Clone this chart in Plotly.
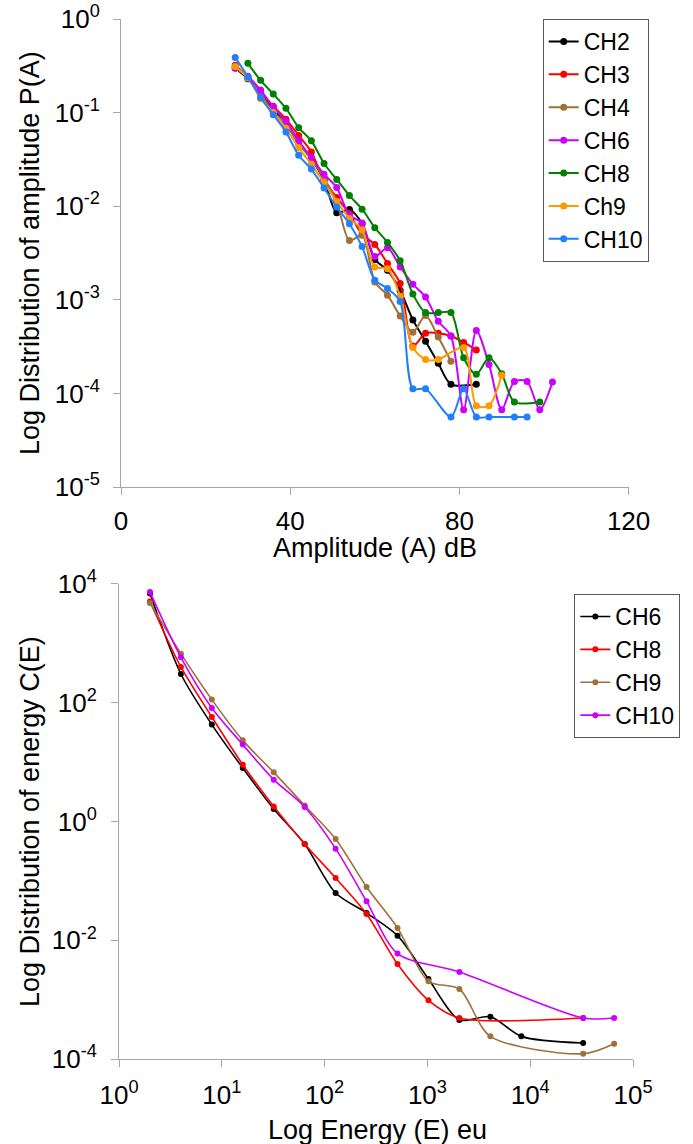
import plotly.graph_objects as go

W, H = 693, 1144
OFF = 0  # page body margin is removed by the post script below
FONT = "Liberation Sans, Arial, sans-serif"


def fx(px):
    return (px - OFF) / W


def fy(py):
    return 1 - (py - OFF) / H


# ---------------- Top chart: amplitude distribution P(A) ----------------
ch2_amp = [27, 30, 33, 36, 39, 42, 45, 48, 51, 54, 57, 60, 63, 66, 69, 72, 75, 78, 84]
ch2_p = [0.30, 0.23, 0.16, 0.107, 0.076, 0.047, 0.032, 0.019, 0.0085, 0.0092, 0.0065,
         0.0027, 0.00207, 0.00126, 0.00061, 0.00036, 0.00021, 0.000125, 0.000125]

ch3_amp = [27, 30, 33, 36, 39, 42, 45, 48, 51, 54, 57, 60, 63, 66, 69, 72, 75, 78, 81, 84]
ch3_p = [0.32, 0.24, 0.166, 0.117, 0.085, 0.057, 0.038, 0.019, 0.0124, 0.0083, 0.005,
         0.0039, 0.00244, 0.00149, 0.00032, 0.00044, 0.00044, 0.00041, 0.00035, 0.00029]

ch4_amp = [27, 30, 33, 36, 39, 42, 45, 48, 51, 54, 57, 60, 63, 66, 69, 72, 75, 78]
ch4_p = [0.30, 0.24, 0.158, 0.102, 0.076, 0.047, 0.032, 0.020, 0.0112, 0.0043, 0.0049,
         0.00155, 0.00112, 0.00067, 0.00045, 0.00068, 0.0004, 0.00022]

ch6_amp = [27, 30, 33, 36, 39, 42, 45, 48, 51, 54, 57, 60, 63, 66, 69, 72, 75, 78, 81,
           84, 87, 90, 93, 96, 99, 102]
ch6_p = [0.30, 0.245, 0.174, 0.115, 0.081, 0.050, 0.033, 0.022, 0.0158, 0.008, 0.0066,
         0.0029, 0.0036, 0.00224, 0.00147, 0.00107, 0.00059, 0.00041, 0.000067,
         0.00047, 0.000204, 0.000067, 0.000134, 0.000134, 0.000067, 0.000132]

ch8_amp = [30, 33, 36, 39, 42, 45, 48, 51, 54, 57, 60, 63, 66, 69, 72, 75, 78, 81, 84,
           87, 90, 93, 99]
ch8_p = [0.336, 0.221, 0.158, 0.111, 0.069, 0.050, 0.0286, 0.0193, 0.013, 0.0093,
         0.0059, 0.0041, 0.00262, 0.00115, 0.00073, 0.00073, 0.00073, 0.00024,
         0.00016, 0.00024, 0.000162, 0.000081, 0.000081]

ch9_amp = [27, 30, 33, 36, 39, 42, 45, 48, 51, 54, 57, 60, 63, 66, 69, 72, 75, 81, 84, 87, 90]
ch9_p = [0.31, 0.234, 0.141, 0.100, 0.068, 0.042, 0.028, 0.0178, 0.0112, 0.0074, 0.0056,
         0.00224, 0.00215, 0.00109, 0.00031, 0.00023, 0.00023, 0.00031, 0.000074,
         0.000074, 0.000156]

ch10_amp = [27, 30, 33, 36, 39, 42, 45, 48, 51, 54, 57, 60, 63, 66, 69, 72, 78, 81, 84,
            87, 93, 96]
ch10_p = [0.389, 0.241, 0.145, 0.095, 0.062, 0.035, 0.0249, 0.0156, 0.0098, 0.0065,
          0.0037, 0.00162, 0.00132, 0.00096, 0.000112, 0.000112, 0.000056, 0.000112,
          0.000056, 0.000056, 0.000056, 0.000056]

amp_series = [
    ("CH2", ch2_amp, ch2_p, "#000000"),
    ("CH3", ch3_amp, ch3_p, "#FF0000"),
    ("CH4", ch4_amp, ch4_p, "#A0703A"),
    ("CH6", ch6_amp, ch6_p, "#CC00FF"),
    ("CH8", ch8_amp, ch8_p, "#008000"),
    ("Ch9", ch9_amp, ch9_p, "#FF9900"),
    ("CH10", ch10_amp, ch10_p, "#1F7FFF"),
]

amp_ticks = [0, 40, 80, 120]
amp_ytick_vals = [1, 1e-1, 1e-2, 1e-3, 1e-4, 1e-5]
amp_ytick_text = ["10<sup>0</sup>", "10<sup>-1</sup>", "10<sup>-2</sup>",
                  "10<sup>-3</sup>", "10<sup>-4</sup>", "10<sup>-5</sup>"]

# ---------------- Bottom chart: energy distribution C(E) ----------------
e6 = [2, 4, 8, 16, 32, 64, 128, 256, 512, 1024, 2048, 4096, 8192, 32768]
c6 = [6800, 302, 42.5, 7.9, 1.62, 0.418, 0.0627, 0.0289, 0.012, 0.00224, 0.00046,
      0.00052, 0.000243, 0.000188]

e8 = [2, 4, 8, 16, 32, 64, 128, 256, 512, 1024, 2048, 32768]
c8 = [5000, 396, 57, 9.0, 1.79, 0.418, 0.112, 0.0278, 0.004, 0.00098, 0.000495, 0.000495]

e9 = [2, 4, 8, 16, 32, 64, 128, 256, 512, 1024, 2048, 4096, 32768, 65536]
c9 = [4730, 664, 112, 23.1, 6.7, 1.86, 0.508, 0.079, 0.0162, 0.00205, 0.00152,
      0.000243, 0.000124, 0.000183]

e10 = [2, 4, 8, 16, 32, 64, 128, 256, 512, 2048, 32768, 65536]
c10 = [7240, 575, 81, 19.6, 5.05, 1.75, 0.349, 0.0454, 0.006, 0.00294, 0.000495, 0.000495]

energy_series = [
    ("CH6", e6, c6, "#000000"),
    ("CH8", e8, c8, "#FF0000"),
    ("CH9", e9, c9, "#A0703A"),
    ("CH10", e10, c10, "#CC00FF"),
]

en_xtick_vals = [1, 10, 100, 1000, 1e4, 1e5]
en_xtick_text = ["10<sup>0</sup>", "10<sup>1</sup>", "10<sup>2</sup>",
                 "10<sup>3</sup>", "10<sup>4</sup>", "10<sup>5</sup>"]
en_ytick_vals = [1e4, 1e2, 1, 1e-2, 1e-4]
en_ytick_text = ["10<sup>4</sup>", "10<sup>2</sup>", "10<sup>0</sup>",
                 "10<sup>-2</sup>", "10<sup>-4</sup>"]

fig = go.Figure()

for name, xs, ys, col in amp_series:
    fig.add_trace(go.Scatter(
        x=xs, y=ys, name=name, mode="lines+markers",
        line=dict(color=col, width=2, shape="spline", smoothing=0.8),
        marker=dict(color=col, size=7),
        xaxis="x", yaxis="y", legend="legend",
    ))

for name, xs, ys, col in energy_series:
    fig.add_trace(go.Scatter(
        x=xs, y=ys, name=name, mode="lines+markers",
        line=dict(color=col, width=1.6, shape="spline", smoothing=0.8),
        marker=dict(color=col, size=6),
        xaxis="x2", yaxis="y2", legend="legend2",
    ))

AX = "#A6A6A6"
common = dict(showgrid=False, zeroline=False, showline=True, linecolor=AX, linewidth=1,
              ticks="outside", ticklen=7, tickcolor=AX, tickwidth=1, automargin=False,
              ticklabeloverflow="allow",
              tickfont=dict(family=FONT, size=26, color="#000000"))

fig.update_layout(
    width=W, height=H, autosize=False,
    margin=dict(l=0, r=0, t=0, b=0, autoexpand=False),
    paper_bgcolor="white", plot_bgcolor="white",
    font=dict(family=FONT, color="#000000"),
    xaxis=dict(domain=[fx(121), fx(628.6)], range=[0, 120], tickvals=amp_ticks,
               anchor="y", ticklabelstandoff=4, **common),
    yaxis=dict(domain=[fy(487), fy(19)], type="log", range=[-5, 0],
               tickvals=amp_ytick_vals, ticktext=amp_ytick_text, anchor="x",
               ticklabelstandoff=8, **common),
    xaxis2=dict(domain=[fx(119), fx(633)], type="log", range=[0, 5],
                tickvals=en_xtick_vals, ticktext=en_xtick_text, anchor="y2",
                ticklabelstandoff=5, **common),
    yaxis2=dict(domain=[fy(1059.3), fy(583.6)], type="log", range=[-4, 4],
                tickvals=en_ytick_vals, ticktext=en_ytick_text, anchor="x2",
                ticklabelstandoff=9, **common),
    legend=dict(x=fx(542.7), y=fy(19), xanchor="left", yanchor="top",
                bordercolor="#595959", borderwidth=1, bgcolor="white",
                font=dict(family=FONT, size=23, color="#000000"),
                itemwidth=30, tracegroupgap=0),
    legend2=dict(x=fx(574.3), y=fy(594), xanchor="left", yanchor="top",
                 bordercolor="#595959", borderwidth=1, bgcolor="white",
                 font=dict(family=FONT, size=23, color="#000000"),
                 itemwidth=30, tracegroupgap=0),
    showlegend=True,
    annotations=[
        dict(text="Amplitude (A) dB", x=fx(374.8), y=fy(548), xref="paper", yref="paper",
             xanchor="center", yanchor="middle", showarrow=False,
             font=dict(family=FONT, size=27, color="#000000")),
        dict(text="Log Distribution of amplitude P(A)", x=fx(30), y=fy(253),
             xref="paper", yref="paper", xanchor="center", yanchor="middle",
             showarrow=False, textangle=-90,
             font=dict(family=FONT, size=27, color="#000000")),
        dict(text="Log Energy (E) eu", x=fx(377.5), y=fy(1130), xref="paper", yref="paper",
             xanchor="center", yanchor="middle", showarrow=False,
             font=dict(family=FONT, size=27, color="#000000")),
        dict(text="Log Distribution of energy C(E)", x=fx(30), y=fy(822),
             xref="paper", yref="paper", xanchor="center", yanchor="middle",
             showarrow=False, textangle=-90,
             font=dict(family=FONT, size=27, color="#000000")),
    ],
)

fig.write_html(
    "out.html",
    config={"displayModeBar": False},
    post_script="document.body.style.margin='0px';document.body.style.overflow='hidden';",
)
